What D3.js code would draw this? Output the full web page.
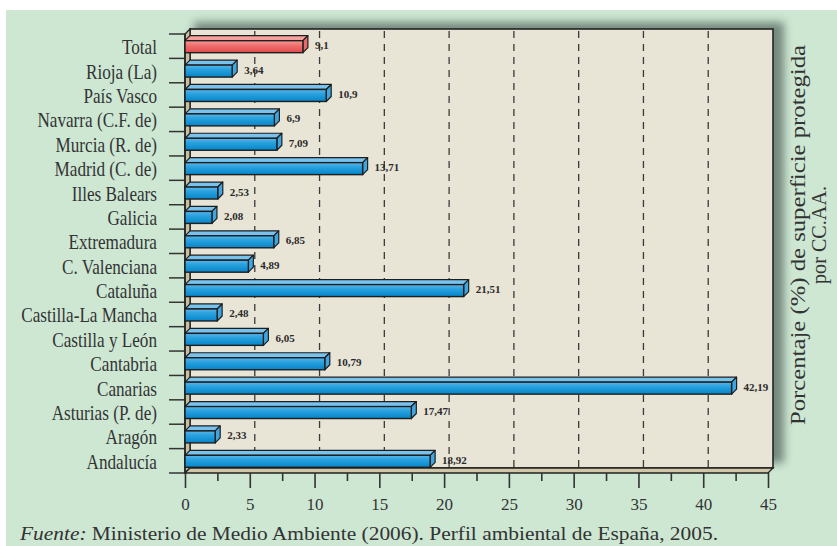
<!DOCTYPE html>
<html>
<head>
<meta charset="utf-8">
<script src="https://cdn.jsdelivr.net/npm/d3@7"></script>
<style>
  html, body { margin: 0; padding: 0; background: #fff; }
  svg { display: block; }
</style>
</head>
<body>
<div id="chart"></div>
<script>
const categories = ['Total', 'Rioja (La)', 'País Vasco', 'Navarra (C.F. de)', 'Murcia (R. de)',
  'Madrid (C. de)', 'Illes Balears', 'Galicia', 'Extremadura', 'C. Valenciana', 'Cataluña',
  'Castilla-La Mancha', 'Castilla y León', 'Cantabria', 'Canarias', 'Asturias (P. de)',
  'Aragón', 'Andalucía']
const values = [9.1, 3.64, 10.9, 6.9, 7.09, 13.71, 2.53, 2.08, 6.85, 4.89, 21.51,
  2.48, 6.05, 10.79, 42.19, 17.47, 2.33, 18.92]
const xTicks = [0, 5, 10, 15, 20, 25, 30, 35, 40, 45]
const minorTicks = [2.5, 7.5, 12.5, 17.5, 22.5, 27.5, 32.5, 37.5, 42.5]
const gridValues = [5, 10, 15, 20, 25, 30, 35, 40]
const titleLines = ['Porcentaje (%) de superficie protegida', 'por CC.AA.']

const canvasWidth = 837
const canvasHeight = 546
const depth = 5
const serif = "'Liberation Serif', 'Times New Roman', serif"
const textColor = '#333'

const xScale = d3.scaleLinear().domain([0, 45]).range([185, 768])
const yScale = d3.scaleBand().domain(categories).range([34, 473])

const svg = d3.select('#chart')
  .append('svg')
  .attr('width', canvasWidth)
  .attr('height', canvasHeight)

const defs = svg.append('defs')

const grad = (id, stops) => {
  const g = defs.append('linearGradient')
    .attr('id', id).attr('x1', 0).attr('y1', 0).attr('x2', 0).attr('y2', 1)
  stops.forEach(([o, c]) => g.append('stop').attr('offset', o).attr('stop-color', c))
}
grad('blueFront', [[0, '#5db5e8'], [0.35, '#2aa2df'], [1, '#0585c9']])
grad('redFront', [[0, '#f79a96'], [0.4, '#f07070'], [1, '#e14a4a']])

defs.append('filter').attr('id', 'shadow')
  .attr('x', '-10%').attr('y', '-10%').attr('width', '120%').attr('height', '120%')
  .append('feGaussianBlur').attr('stdDeviation', 4)

// background
svg.append('rect')
  .attr('x', 6).attr('y', 10)
  .attr('width', canvasWidth - 6).attr('height', canvasHeight - 10)
  .attr('fill', '#cde7d3')

const x0 = xScale(0)
const x45 = xScale(45)
const plotTop = yScale.range()[0]
const plotBottom = yScale.range()[1]

// panel shadow
svg.append('rect')
  .attr('x', x0 + depth + 4).attr('y', plotTop - depth - 7)
  .attr('width', x45 - x0 + 7).attr('height', plotBottom - plotTop + 2)
  .attr('fill', '#5f7168')
  .attr('opacity', 0.8)
  .attr('filter', 'url(#shadow)')

// back panel
svg.append('rect')
  .attr('x', x0 + depth).attr('y', plotTop - depth)
  .attr('width', x45 - x0).attr('height', plotBottom - plotTop)
  .attr('fill', '#e8e4d6')
  .attr('stroke', '#222')
  .attr('stroke-width', 1.6)

// dashed gridlines on the back wall
svg.append('g')
  .selectAll('line')
  .data(gridValues)
  .enter()
  .append('line')
  .attr('x1', d => xScale(d) + depth).attr('x2', d => xScale(d) + depth)
  .attr('y1', plotTop - depth + 2).attr('y2', plotBottom - depth)
  .attr('stroke', '#3a3a3a')
  .attr('stroke-width', 1.3)
  .attr('stroke-dasharray', '7,6')

// left wall
svg.append('polygon')
  .attr('points', [[x0, plotTop], [x0 + depth, plotTop - depth], [x0 + depth, plotBottom - depth], [x0, plotBottom]].join(' '))
  .attr('fill', '#c8bf9f')
  .attr('stroke', '#222')
  .attr('stroke-width', 1.3)

// floor
svg.append('polygon')
  .attr('points', [[x0, plotBottom], [x0 + depth, plotBottom - depth], [x45 + depth, plotBottom - depth], [x45, plotBottom]].join(' '))
  .attr('fill', '#d0c7a8')
  .attr('stroke', '#222')
  .attr('stroke-width', 1.3)

// category tick lines at band boundaries
const boundaries = categories.map(c => yScale(c)).concat([plotBottom])
svg.append('g')
  .selectAll('line')
  .data(boundaries)
  .enter()
  .append('line')
  .attr('x1', x0 - 16).attr('x2', x0)
  .attr('y1', d => d).attr('y2', d => d)
  .attr('stroke', '#333')
  .attr('stroke-width', 1.5)

svg.append('line')
  .attr('x1', x0).attr('x2', x0)
  .attr('y1', plotTop).attr('y2', plotBottom)
  .attr('stroke', '#222')
  .attr('stroke-width', 1.6)

// category labels
svg.append('g')
  .selectAll('text')
  .data(categories)
  .enter()
  .append('text')
  .attr('transform', d => `translate(157, ${yScale(d) + yScale.bandwidth() / 2 + 8}) scale(0.78, 1)`)
  .attr('text-anchor', 'end')
  .attr('font-family', serif)
  .attr('font-size', 22)
  .attr('fill', textColor)
  .text(d => d)

// bars
const rows = categories.map((c, i) => ({cat: c, value: values[i], total: i === 0}))
const bar = svg.append('g')
  .selectAll('g')
  .data(rows)
  .enter()
  .append('g')

const faceTop = d => yScale(d.cat) + yScale.bandwidth() / 2 - 5.5
const faceBottom = d => yScale(d.cat) + yScale.bandwidth() / 2 + 6.5

bar.append('polygon')
  .attr('points', d => {
    const x1 = xScale(d.value), yt = faceTop(d)
    return [[x0, yt], [x0 + depth, yt - depth], [x1 + depth, yt - depth], [x1, yt]].join(' ')
  })
  .attr('fill', d => d.total ? '#f6a19d' : '#78c2ee')
  .attr('stroke', '#1e1e1e')
  .attr('stroke-width', 1.2)
  .attr('stroke-linejoin', 'round')

bar.append('polygon')
  .attr('points', d => {
    const x1 = xScale(d.value), yt = faceTop(d), yb = faceBottom(d)
    return [[x1, yt], [x1 + depth, yt - depth], [x1 + depth, yb - depth], [x1, yb]].join(' ')
  })
  .attr('fill', d => d.total ? '#e96a68' : '#3fa6e1')
  .attr('stroke', '#1e1e1e')
  .attr('stroke-width', 1.2)
  .attr('stroke-linejoin', 'round')

bar.append('rect')
  .attr('x', x0)
  .attr('y', faceTop)
  .attr('width', d => xScale(d.value) - x0)
  .attr('height', d => faceBottom(d) - faceTop(d))
  .attr('fill', d => d.total ? 'url(#redFront)' : 'url(#blueFront)')
  .attr('stroke', '#1e1e1e')
  .attr('stroke-width', 1.4)

bar.append('text')
  .attr('x', d => xScale(d.value) + depth + 7)
  .attr('y', d => yScale(d.cat) + yScale.bandwidth() / 2 + 3)
  .attr('font-family', serif)
  .attr('font-size', 11)
  .attr('font-weight', 'bold')
  .attr('fill', '#2a2a2a')
  .text(d => String(d.value).replace('.', ','))

// x axis
const axisG = svg.append('g')
  .attr('transform', `translate(0, ${plotBottom})`)
  .call(d3.axisBottom(xScale).tickValues(xTicks).tickSize(15).tickPadding(10).tickFormat(d => d))
axisG.select('.domain').remove()
axisG.selectAll('line').attr('stroke', '#333').attr('stroke-width', 1.6)
axisG.selectAll('text')
  .attr('font-family', serif)
  .attr('font-size', 17)
  .attr('fill', textColor)

const minorG = svg.append('g')
  .attr('transform', `translate(0, ${plotBottom})`)
  .call(d3.axisBottom(xScale).tickValues(minorTicks).tickSize(8).tickFormat(''))
minorG.select('.domain').remove()
minorG.selectAll('line').attr('stroke', '#333').attr('stroke-width', 1.6)

// rotated title on the right
svg.append('g')
  .selectAll('text')
  .data(titleLines)
  .enter()
  .append('text')
  .attr('transform', (d, i) => `translate(${805 + i * 21}, 235) rotate(-90)`)
  .attr('text-anchor', 'middle')
  .attr('font-family', serif)
  .attr('font-size', 20)
  .attr('fill', textColor)
  .attr('textLength', (d, i) => i === 0 ? 380 : 98)
  .attr('lengthAdjust', 'spacingAndGlyphs')
  .text(d => d)

// source note
const note = svg.append('text')
  .attr('x', 20).attr('y', 540)
  .attr('font-family', serif)
  .attr('font-size', 19)
  .attr('fill', textColor)
  .attr('textLength', 698)
  .attr('lengthAdjust', 'spacingAndGlyphs')
note.append('tspan').attr('font-style', 'italic').text('Fuente:')
note.append('tspan').text(' Ministerio de Medio Ambiente (2006). Perfil ambiental de España, 2005.')
</script>
</body>
</html>
